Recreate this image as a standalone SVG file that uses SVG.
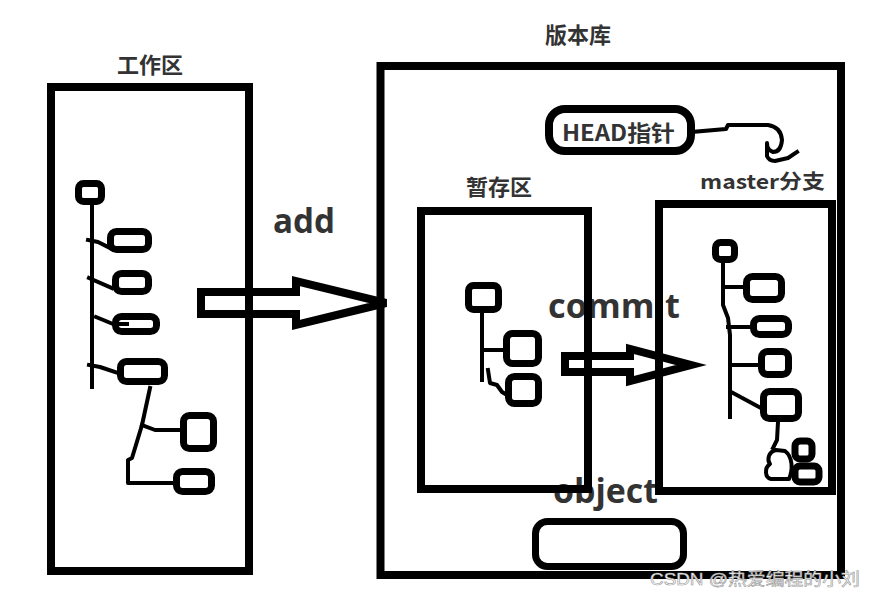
<svg xmlns="http://www.w3.org/2000/svg" width="876" height="598" viewBox="0 0 876 598">
<style>
.lbl{font-family:"Noto Sans CJK SC","Noto Sans",sans-serif;font-weight:bold;fill:#333;}
.big{font-family:"Open Sans","Noto Sans",sans-serif;font-weight:bold;fill:#333;font-size:34px;}
.box{fill:none;stroke:#000;stroke-width:8;}
.n{fill:#fff;stroke:#000;stroke-width:7;}
.c{fill:none;stroke:#000;stroke-width:4;stroke-linejoin:round;stroke-linecap:square;}
.arr{fill:none;stroke:#000;stroke-width:8;stroke-linejoin:miter;}
.wm{font-family:"Liberation Sans","Noto Sans CJK SC",sans-serif;font-size:17px;fill:#fff;stroke:#9a9a9a;stroke-width:0.6;}
</style>
<rect width="876" height="598" fill="#fff"/>

<g id="labels">
<text class="lbl" x="150" y="73" font-size="22" text-anchor="middle">工作区</text>
<text class="lbl" x="578" y="43" font-size="22" text-anchor="middle">版本库</text>
<text class="lbl" x="499" y="195" font-size="22" text-anchor="middle">暂存区</text>
<text class="lbl" x="700" y="189" font-size="20" textLength="125" lengthAdjust="spacingAndGlyphs">master分支</text>
<text class="big" x="273" y="233" textLength="62" lengthAdjust="spacingAndGlyphs">add</text>
<text class="big" x="548" y="318" textLength="132" lengthAdjust="spacingAndGlyphs">commit</text>
<text class="big" x="553" y="503" textLength="105" lengthAdjust="spacingAndGlyphs">object</text>
</g>

<g id="workspace">
<rect class="box" x="51" y="87" width="198" height="484"/>
</g>
<g id="repository">
<rect class="box" x="380.5" y="66" width="460.5" height="509"/>
</g>
<g id="staging">
<rect class="box" x="421" y="211" width="167" height="278"/>
</g>
<g id="master">
<rect class="box" x="659" y="204" width="173" height="287"/>
</g>

<g id="connectors">
<polygon class="arr" points="201,292 296,292 296,281 386,303 296,325 296,314 201,314"/>
<polygon class="arr" stroke-width="7" points="565,356 630,356 630,349 691,365 630,381 630,372 565,372"/>
<path class="c" stroke-width="5" d="M691,132 L726,129 L728,125 L768,125 Q781,127 782,140 Q781,152 773,152 Q767,150 767,143 L767,156 Q769,161 775,161 L788,158 L797,152"/>
<path class="c" d="M92,205 L92,387"/>
<path class="c" d="M88,240 L98,242 L110,248"/>
<path class="c" d="M89,278 L112,288"/>
<path class="c" d="M89,365 L100,367 L118,373"/>
<path class="c" d="M150,388 L142,425 L132,458 L128,460 L128,483 L173,483"/>
<path class="c" d="M142,425 L155,430 L180,430"/>
<path class="c" d="M482,313 L482,380"/>
<path class="c" d="M482,350 L503,350"/>
<path class="c" d="M488,370 L490,383 L497,385 L502,392 L507,395"/>
<path class="c" d="M723,263 L723,305 L728,318 L730,335 L730,417"/>
<path class="c" d="M723,287 L744,287"/>
<path class="c" d="M728,327 L751,327"/>
<path class="c" d="M730,365 L759,365"/>
<path class="c" d="M733,393 L761,408"/>
<path class="c" d="M778,422 L777,440 L773,448"/>
<path class="c" stroke-width="5" d="M776,450 C768,452 767,460 770,464 C764,468 765,478 771,479 L789,479 C793,470 793,457 785,451 Z"/>
</g>

<g id="head-pointer">
<rect x="549" y="109" width="142" height="42" rx="16" fill="#fff" stroke="#000" stroke-width="8"/>
<text class="lbl" x="562" y="141" font-size="22" textLength="113" lengthAdjust="spacingAndGlyphs">HEAD指针</text>
</g>
<g id="object-store">
<rect x="535.5" y="521.5" width="148" height="45" rx="12" fill="#fff" stroke="#000" stroke-width="7"/>
</g>

<g id="w1"><rect class="n" x="78.5" y="183.5" width="23" height="18" rx="5"/></g>
<g id="w2"><rect class="n" x="110.5" y="231.5" width="38" height="18" rx="6"/></g>
<g id="w3"><rect class="n" x="115.5" y="273.5" width="33" height="18" rx="6"/></g>
<g id="w4"><rect class="n" x="115.5" y="316.5" width="41" height="15" rx="6"/><path class="c" d="M96,317 L113,324 L127,324"/></g>
<g id="w5"><rect class="n" x="120.5" y="361.5" width="44" height="20" rx="6"/></g>
<g id="w6"><rect class="n" x="183.5" y="415.5" width="30" height="33" rx="6"/></g>
<g id="w7"><rect class="n" x="176.5" y="471.5" width="35" height="20" rx="6"/></g>

<g id="s1"><rect class="n" x="468.5" y="285.5" width="30" height="24" rx="5"/></g>
<g id="s2"><rect class="n" x="506.5" y="333.5" width="32" height="30" rx="6"/></g>
<g id="s3"><rect class="n" x="508.5" y="376.5" width="30" height="27" rx="6"/></g>

<g id="m1"><rect class="n" x="715.5" y="242.5" width="19" height="17" rx="5"/></g>
<g id="m2"><rect class="n" x="746.5" y="276.5" width="35" height="23" rx="6"/></g>
<g id="m3"><rect class="n" x="753.5" y="318.5" width="35" height="16" rx="6"/></g>
<g id="m4"><rect class="n" x="761.5" y="351.5" width="27" height="23" rx="6"/></g>
<g id="m5"><rect class="n" x="763.5" y="391.5" width="35" height="27" rx="6"/></g>
<g id="m6"><rect class="n" stroke-width="6" x="795" y="441" width="17" height="18" rx="5"/></g>
<g id="m7"><rect class="n" stroke-width="6" x="795" y="466" width="24" height="16" rx="5"/></g>

<text class="wm" x="650" y="585" textLength="210" lengthAdjust="spacingAndGlyphs">CSDN @热爱编程的小刘</text>
</svg>
